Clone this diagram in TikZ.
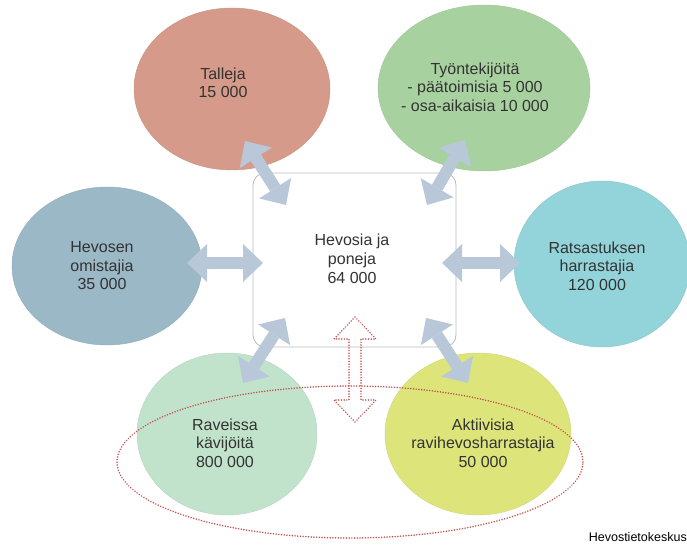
\documentclass[tikz,border=0pt]{standalone}
\usepackage{fontspec}
\setmainfont{Liberation Sans}
\usetikzlibrary{arrows.meta,shapes.geometric}
\definecolor{ctal}{HTML}{D59A89}
\definecolor{ctyo}{HTML}{A8D1A0}
\definecolor{chev}{HTML}{9AB8C6}
\definecolor{crat}{HTML}{93D4DB}
\definecolor{crav}{HTML}{C2E3CB}
\definecolor{cakt}{HTML}{DDE57A}
\definecolor{carrow}{HTML}{B9C8D9}
\definecolor{cbox}{HTML}{BBBBBB}
\definecolor{cred}{HTML}{C4504C}
\definecolor{ctext}{HTML}{333333}
\begin{document}
\begin{tikzpicture}[x=1pt,y=-1pt,
  bub/.style={ellipse, draw=#1!88!gray, line width=0.5pt, fill=#1, inner sep=0pt},
  txt/.style={align=center, text=ctext, inner sep=0pt, font=\fontsize{16}{18.5}\selectfont},
  blockarrow/.style={draw=carrow, line width=12pt, {Triangle[length=20pt,width=38pt,line width=0pt]}-{Triangle[length=20pt,width=38pt,line width=0pt]}},
  reddot/.style={draw=cred, line width=1.7pt, line cap=round, dash pattern=on 0.01pt off 2.7pt}
]
\useasboundingbox (0,0) rectangle (687,545);

% bubbles
\node[bub=ctal, minimum width=196pt, minimum height=162pt] (talleja) at (232,89) {};
\node[bub=ctyo, minimum width=212pt, minimum height=166pt] (tyo) at (484,88) {};
\node[bub=chev, minimum width=190pt, minimum height=158pt] (hevosen) at (107,266) {};
\node[bub=crat, minimum width=176pt, minimum height=166pt] (rats) at (602,264) {};
\node[bub=crav, minimum width=180pt, minimum height=162pt] (rav) at (227,434) {};
\node[bub=cakt, minimum width=186pt, minimum height=162pt] (akt) at (478,434) {};

% centre box
\node[draw=cbox, line width=0.8pt, rounded corners=12pt, fill=white,
      minimum width=203pt, minimum height=174pt, inner sep=0pt] (box) at (354.5,260) {};

% arrow ends
\coordinate (a1s) at (245,141); \coordinate (a1e) at (286,205);
\coordinate (a2s) at (465,140); \coordinate (a2e) at (427,205);
\coordinate (a3s) at (187,263); \coordinate (a3e) at (263,263);
\coordinate (a4s) at (442,263); \coordinate (a4e) at (520,263);
\coordinate (a5s) at (285,318); \coordinate (a5e) at (243,383);
\coordinate (a6s) at (426,318); \coordinate (a6e) at (468,383);

\draw[blockarrow] (a1s) -- (a1e);
\draw[blockarrow] (a2s) -- (a2e);
\draw[blockarrow] (a3s) -- (a3e);
\draw[blockarrow] (a4s) -- (a4e);
\draw[blockarrow] (a5s) -- (a5e);
\draw[blockarrow] (a6s) -- (a6e);

% dotted group ellipse
\node[ellipse, reddot, minimum width=466pt, minimum height=152pt, inner sep=0pt] (grp) at (350,462) {};

% dotted hollow double arrow
\draw[reddot, line join=round] (355,317) -- (376,339) -- (361,339) -- (361,400) -- (376,400)
  -- (355,422) -- (334,400) -- (349,400) -- (349,339) -- (334,339) -- cycle;

% texts
\node[txt] (ttal) at (223,83) {Talleja\\15 000};
\node[txt] (ttyo) at (475,87) {Työntekijöitä\\- päätoimisia 5 000\\- osa-aikaisia 10 000};
\node[txt] (thev) at (102,266) {Hevosen\\omistajia\\35 000};
\node[txt] (trat) at (597,266) {Ratsastuksen\\harrastajia\\120 000};
\node[txt] (trav) at (225,443) {Raveissa\\kävijöitä\\800 000};
\node[txt] (takt) at (483,443) {Aktiivisia\\ravihevosharrastajia\\50 000};
\node[txt, font=\fontsize{16}{19}\selectfont] (tbox) at (352,259) {Hevosia ja\\poneja\\64 000};
\node[anchor=base east, inner sep=0pt, text=black, font=\fontsize{12.5}{14}\selectfont] (src) at (687,541) {Hevostietokeskus};
\end{tikzpicture}
\end{document}
